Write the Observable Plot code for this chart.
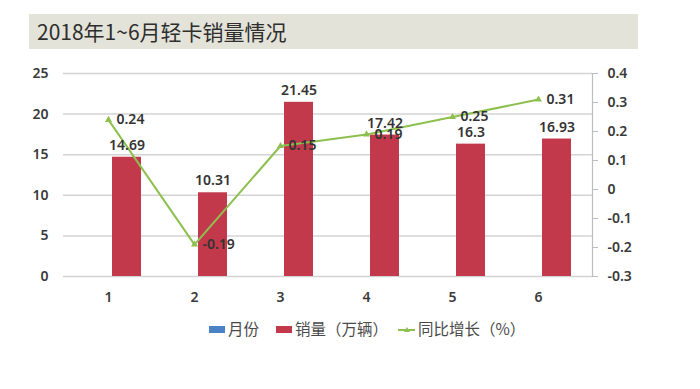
<!DOCTYPE html>
<html>
<head>
<meta charset="utf-8">
<script src="https://cdn.jsdelivr.net/npm/d3@7"></script>
<script src="https://cdn.jsdelivr.net/npm/@observablehq/plot@0.6"></script>
<style>
  html, body { margin: 0; padding: 0; background: #fff; }
  #wrap { position: relative; width: 700px; height: 389px; overflow: hidden; font-family: "Noto Sans CJK SC", "Noto Sans", sans-serif; }
  #title { position: absolute; left: 29px; top: 14px; width: 609px; height: 35px; background: #e3e3d9; color: #2e2e2e; font-size: 21px; line-height: 35px; padding-left: 8px; box-sizing: border-box; }
  #chart { position: absolute; left: 0; top: 55px; }
  .leg { position: absolute; top: 318px; height: 20px; line-height: 20px; font-size: 15.5px; color: #4a4a4a; white-space: nowrap; }
  .sw { display: inline-block; width: 16px; height: 7px; vertical-align: middle; margin-right: 3px; position: relative; top: -1px; }
  .ln { display: inline-block; width: 17px; height: 2px; background: #8dc04f; vertical-align: middle; margin-right: 3px; position: relative; top: -1px; }
  .ln::after { content: ""; position: absolute; left: 6px; top: -2px; border-left: 3px solid transparent; border-right: 3px solid transparent; border-bottom: 5px solid #8dc04f; }
</style>
</head>
<body>
<div id="wrap">
  <div id="title">2018年1~6月轻卡销量情况</div>
  <div id="chart"></div>
  <div class="leg" style="left:209px"><span class="sw" style="background:#4a82c6"></span>月份</div>
  <div class="leg" style="left:276px"><span class="sw" style="background:#c1394a"></span>销量（万辆）</div>
  <div class="leg" style="left:398px"><span class="ln"></span>同比增长（%）</div>
</div>
<script>
const months = [1, 2, 3, 4, 5, 6];
const sales = [14.69, 10.31, 21.45, 17.42, 16.3, 16.93];
const growth = [0.24, -0.19, 0.15, 0.19, 0.25, 0.31];
const leftTicks = [0, 5, 10, 15, 20, 25];
const rightTicks = [-0.3, -0.2, -0.1, 0, 0.1, 0.2, 0.3, 0.4];

const rMin = -0.3, rMax = 0.4, lMax = 25;
const toLeft = v => (v - rMin) / (rMax - rMin) * lMax;
const fromLeft = d => Math.round((d / lMax * (rMax - rMin) + rMin) * 10) / 10;

const data = months.map((m, i) => ({month: m, sales: sales[i], growth: growth[i]}));

const numFont = "'Noto Sans', 'DejaVu Sans', sans-serif";
const green = "#8dc04f";
const red = "#c1394a";

const chart = Plot.plot({
  width: 700,
  height: 260,
  marginTop: 18,
  marginBottom: 39,
  marginLeft: 63,
  marginRight: 108,
  style: {fontFamily: numFont, fontSize: "14px", color: "#3a3a3a", background: "transparent"},
  x: {type: "band", domain: months, range: [63, 583], padding: 0},
  y: {domain: [0, 25]},
  marks: [
    Plot.ruleY(leftTicks, {stroke: "#d3d3d3", strokeWidth: 1.5}),
    Plot.frame({anchor: "right", stroke: "#bdbdbd", strokeWidth: 1.2}),
    Plot.axisY(leftTicks, {anchor: "left", tickSize: 0, tickPadding: 15, label: null, fill: "#3a3a3a", fontWeight: 600, fontSize: 14}),
    Plot.axisY(rightTicks.map(toLeft), {anchor: "right", tickSize: 5, tickPadding: 10, stroke: "#bdbdbd", label: null, tickFormat: d => String(fromLeft(d)), fill: "#3a3a3a", fontWeight: 600, fontSize: 14}),
    Plot.axisX({tickSize: 0, tickPadding: 16, label: null, fill: "#3a3a3a", fontWeight: 600, fontSize: 14}),
    Plot.barY(data, {x: "month", y: "sales", fill: red, insetLeft: 47, insetRight: 10}),
    Plot.line(data, {x: "month", y: d => toLeft(d.growth), stroke: green, strokeWidth: 2}),
    Plot.dot(data, {x: "month", y: d => toLeft(d.growth), symbol: "triangle", r: 2.6, fill: green, stroke: null}),
    Plot.text(data, {x: "month", y: "sales", text: d => String(d.sales), dx: 18.5, dy: -12, fill: "#333", fontWeight: 600, fontSize: 14}),
    Plot.text(data, {x: "month", y: d => toLeft(d.growth), text: d => String(d.growth), dx: 8, textAnchor: "start", fill: "#333", fontWeight: 600, fontSize: 14})
  ]
});
document.getElementById("chart").appendChild(chart);
</script>
</body>
</html>
